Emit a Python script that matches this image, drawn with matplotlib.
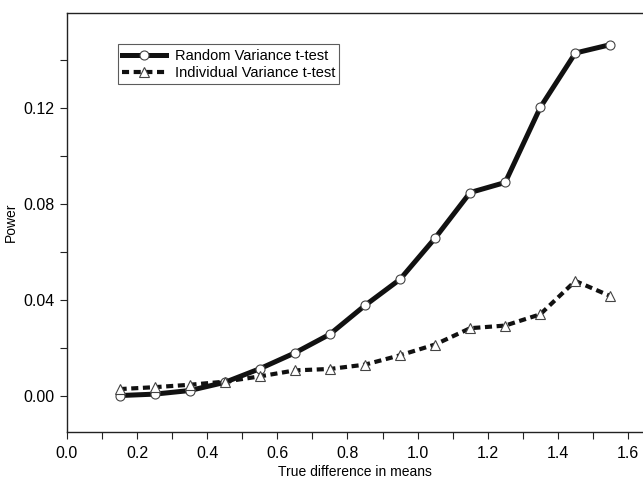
import matplotlib.pyplot as plt
from matplotlib.ticker import MultipleLocator

plt.rcParams['font.family'] = ['Liberation Sans', 'DejaVu Sans']

diff = [0.15, 0.25, 0.35, 0.45, 0.55, 0.65, 0.75, 0.85, 0.95, 1.05, 1.15, 1.25, 1.35, 1.45, 1.55]
random_var = [0.0001, 0.0007, 0.0022, 0.0056, 0.0113, 0.0179, 0.0257, 0.0377, 0.0486, 0.0658,
              0.0848, 0.0890, 0.1203, 0.1430, 0.1465]
indiv_var = [0.0028, 0.0036, 0.0046, 0.0059, 0.0081, 0.0106, 0.0112, 0.0130, 0.0169, 0.0214,
             0.0282, 0.0293, 0.0340, 0.0479, 0.0416]

fig = plt.figure(figsize=(6.43, 4.83), dpi=100)
ax = fig.add_axes([67 / 643, (483 - 432) / 483, (643 - 67) / 643, (432 - 13) / 483])

ax.plot(diff, random_var, color='#111111', lw=3.6, marker='o', ms=6.5,
        mfc='white', mec='#444444', mew=0.8, label='Random Variance t-test')
ax.plot(diff, indiv_var, color='#111111', lw=3.0, ls=(0, (1.7, 1.1)), marker='^', ms=7,
        mfc='white', mec='#444444', mew=0.8, label='Individual Variance t-test')

ax.set_xlim(0.0, 1.643)
ax.set_ylim(-0.0151, 0.1597)
ax.xaxis.set_major_locator(MultipleLocator(0.2))
ax.xaxis.set_minor_locator(MultipleLocator(0.1))
ax.yaxis.set_major_locator(MultipleLocator(0.04))
ax.yaxis.set_minor_locator(MultipleLocator(0.02))
ax.xaxis.set_major_formatter(lambda v, p: f'{v:.1f}')
ax.yaxis.set_major_formatter(lambda v, p: f'{v:.2f}')
ax.tick_params(which='both', direction='out', length=5, width=0.8, labelsize=11.5, pad=5, color='#222222')
ax.tick_params(axis='y', pad=4)

ax.spines['right'].set_visible(False)
for s in ['left', 'top', 'bottom']:
    ax.spines[s].set_linewidth(1.0)
    ax.spines[s].set_color('#222222')

ax.set_xlabel('True difference in means', fontsize=10, labelpad=3)
ax.set_ylabel('Power', fontsize=10, labelpad=4)

leg = ax.legend(loc='upper left', bbox_to_anchor=(0.088, 0.925), fontsize=10.5, frameon=True,
                fancybox=False, edgecolor='#333333', borderpad=0.3, labelspacing=0.2,
                handlelength=3.0, handletextpad=0.6, borderaxespad=0)
leg.get_frame().set_linewidth(0.8)

fig.savefig('out.png', dpi=100)
